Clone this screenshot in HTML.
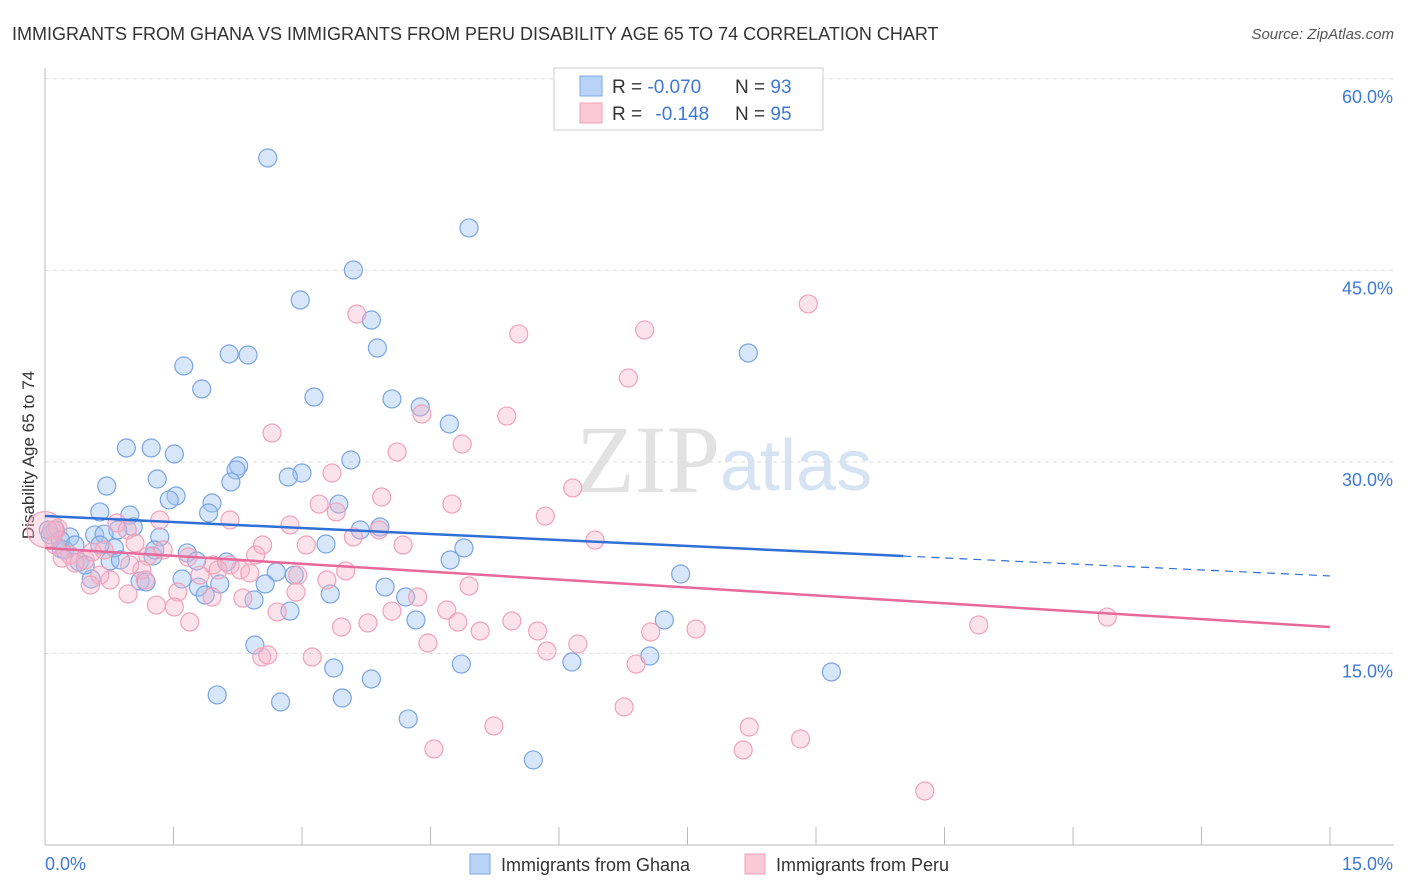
<!DOCTYPE html>
<html><head><meta charset="utf-8"><style>
body{margin:0;background:#fff;font-family:"Liberation Sans",sans-serif;}
#wrap{position:relative;width:1406px;height:892px;overflow:hidden;}
</style></head><body>
<div id="wrap">
<svg id="chart" width="1406" height="892" font-family="Liberation Sans, sans-serif">
<text x="12" y="40" font-size="18" fill="#333">IMMIGRANTS FROM GHANA VS IMMIGRANTS FROM PERU DISABILITY AGE 65 TO 74 CORRELATION CHART</text>
<text x="1394" y="39" font-size="15" fill="#555" text-anchor="end" font-style="italic">Source: ZipAtlas.com</text>
<text x="34" y="455" font-size="17" fill="#333" text-anchor="middle" transform="rotate(-90 34 455)">Disability Age 65 to 74</text>
<text x="720" y="492" font-size="96" fill="#e2e2e2" text-anchor="end" font-family="Liberation Serif, serif">ZIP</text>
<text x="720" y="490" font-size="72" fill="#d5e3f3">atlas</text>
<g id="grid"></g><g id="axes"></g><g id="pts"></g><g id="trend"></g>
<g>
<rect x="554" y="68" width="269" height="62" fill="#fff" stroke="#ccc"/>
<rect x="580" y="76" width="22" height="20" fill="#b8d3f5" stroke="#7fa9e3"/>
<rect x="580" y="103" width="22" height="20" fill="#fbc8d6" stroke="#f0a0b8"/>
<text x="612" y="93" font-size="19" fill="#333">R = <tspan fill="#3d78d8">-0.070</tspan></text>
<text x="735" y="93" font-size="19" fill="#333">N = <tspan fill="#3d78d8">93</tspan></text>
<text x="612" y="120" font-size="19" fill="#333">R = <tspan fill="#3d78d8" dx="8">-0.148</tspan></text>
<text x="735" y="120" font-size="19" fill="#333">N = <tspan fill="#3d78d8">95</tspan></text>
</g>
<g>
<rect x="470" y="854" width="20" height="20" fill="#b8d3f5" stroke="#7fa9e3"/>
<text x="501" y="871" font-size="18" fill="#333">Immigrants from Ghana</text>
<rect x="745" y="854" width="20" height="20" fill="#fbc8d6" stroke="#f0a0b8"/>
<text x="776" y="871" font-size="18" fill="#333">Immigrants from Peru</text>
</g>
</svg>
</div>
<script>
const yTicks=[15,30,45,60];
const yTickLabels=["15.0%","30.0%","45.0%","60.0%"];
const xTickVals=[0,1.5,3,4.5,6,7.5,9,10.5,12,13.5,15];
const xEndLabels=["0.0%","15.0%"];
const ghanaX=[2.60,4.95,3.60,2.98,3.81,3.88,2.15,2.37,8.21,1.62,1.83,3.14,4.05,4.38,4.72,0.95,1.24,1.51,3.57,2.26,2.23,1.31,0.72,3.00,2.84,2.17,1.53,1.45,1.95,1.91,0.64,0.99,3.43,1.03,0.85,3.91,3.68,0.12,0.29,0.58,0.69,1.34,3.28,4.89,0.81,0.19,1.66,1.77,0.40,2.12,0.76,1.26,4.73,7.42,0.54,1.60,1.11,1.18,2.70,2.91,2.57,1.79,1.87,2.04,2.44,3.97,3.33,4.21,2.86,4.33,7.23,2.45,7.06,6.15,4.86,3.37,9.18,3.81,2.01,3.47,2.75,4.24,5.70,0.06,0.04,0.23,0.47,0.18,0.35,0.88,1.28,0.64];
const ghanaY=[53.80,48.32,45.03,42.68,41.11,38.92,38.45,38.37,38.53,37.51,35.71,35.08,34.93,34.30,32.97,31.09,31.09,30.62,30.15,29.68,29.37,28.66,28.11,29.13,28.82,28.43,27.33,27.02,26.78,26.00,26.08,25.84,26.70,24.90,24.67,24.90,24.67,24.67,24.12,24.28,24.35,24.12,23.57,23.26,23.26,23.18,22.87,22.24,22.16,22.16,22.24,22.63,22.32,21.22,20.83,20.83,20.67,20.60,21.38,21.14,20.44,20.20,19.58,20.44,19.19,20.20,19.66,19.42,18.32,17.62,17.62,15.66,14.80,14.33,14.17,13.86,13.55,13.00,11.75,11.51,11.20,9.87,6.66,24.28,24.67,23.10,21.93,23.88,23.49,22.32,23.10,23.49];
const peruX=[8.91,3.64,5.53,7.00,6.81,4.40,5.39,4.87,2.65,4.11,3.35,3.93,4.75,6.16,5.84,3.20,3.40,2.86,3.60,3.90,0.84,0.96,4.18,6.42,3.05,1.05,1.20,1.38,1.67,2.46,2.16,1.96,0.29,0.47,0.55,0.69,0.08,0.12,0.20,0.35,1.13,2.95,1.81,2.02,2.28,2.39,3.51,3.29,4.95,1.55,1.95,2.31,2.93,0.97,0.76,4.05,4.35,1.30,1.51,4.69,1.69,5.45,5.75,4.82,5.08,3.46,3.77,6.22,4.47,7.07,7.60,10.90,12.40,2.71,2.53,2.60,3.12,5.86,6.90,6.76,5.24,8.22,8.15,8.82,4.54,10.27,0.15,0.99,0.64,1.34,2.16,2.54,0.53,1.17,0.0];
const peruY=[42.37,41.58,40.02,40.33,36.57,33.75,33.59,31.40,32.26,30.78,29.13,27.25,26.70,27.96,25.76,26.70,26.08,25.06,24.12,24.67,25.22,24.67,23.49,23.88,23.49,23.65,22.63,23.10,22.55,22.71,21.93,21.93,22.71,22.32,22.94,23.10,24.67,23.49,22.47,22.08,21.54,21.14,21.14,21.54,21.54,21.30,21.46,20.75,20.28,19.81,19.42,19.34,19.81,19.66,20.75,18.32,19.42,18.79,18.64,18.40,17.46,17.54,16.76,17.46,16.76,17.07,17.39,15.74,15.82,16.68,16.91,17.23,17.85,18.25,14.72,14.88,14.72,15.19,14.17,10.81,9.32,9.24,7.44,8.30,7.52,4.23,24.82,21.93,21.14,25.45,25.45,23.49,20.36,20.75,24.7];
const ghanaTrend=[25.76,21.07];
const peruTrend=[23.26,17.07];
const ghanaSolidEnd=10.02;
const NS="http://www.w3.org/2000/svg";
const X0=45,X1=1330,YB=845,YS=12.77;
const sx=v=>X0+(X1-X0)*v/15;
const sy=v=>YB-v*YS;
function mk(t,p,a){const e=document.createElementNS(NS,t);for(const k in a)e.setAttribute(k,a[k]);p.appendChild(e);return e;}
const grid=document.getElementById('grid'),axes=document.getElementById('axes'),pts=document.getElementById('pts'),trend=document.getElementById('trend');
yTicks.forEach((v,i)=>{
 const l=mk('line',grid,{x1:X0,x2:1394,y1:sy(v),y2:sy(v),stroke:'#ddd','stroke-dasharray':'4 4'});
 
 
 const t=mk('text',axes,{x:1393,y:sy(v)+24,'font-size':18,fill:'#3d78d8','text-anchor':'end'});
 t.textContent=yTickLabels[i];
 
 
});
const ax=mk('line',axes,{x1:X0,x2:1394,y1:YB,y2:YB,stroke:'#bbb'});


const ay=mk('line',axes,{x1:X0,x2:X0,y1:68,y2:YB,stroke:'#bbb'});


xTickVals.forEach(v=>{
 const t=mk('line',axes,{x1:sx(v),x2:sx(v),y1:YB,y2:YB-18,stroke:'#bbb'});
 
 
});
[[0,'start',45],[15,'end',1393]].forEach((d,i)=>{
 const t=mk('text',axes,{x:d[2],y:870,'font-size':18,fill:'#3d78d8','text-anchor':d[1]});
 t.textContent=xEndLabels[i];
 
 
});
function drawPts(xs,ys,fill,stroke,name){
 xs.forEach((x,i)=>{
  const big=(name==='peru-point'&&i===xs.length-1);
  const c=mk('circle',pts,{cx:sx(x),cy:sy(ys[i]),r:big?18:9,fill:fill,stroke:stroke,'stroke-width':1.2});
  
  
 });
}
drawPts(ghanaX,ghanaY,'rgba(160,196,240,0.42)','#7aa5e3','ghana-point');
drawPts(peruX,peruY,'rgba(248,180,200,0.38)','#f0a2ba','peru-point');
const gy=x=>ghanaTrend[0]+(ghanaTrend[1]-ghanaTrend[0])*x/15;
const py=x=>peruTrend[0]+(peruTrend[1]-peruTrend[0])*x/15;
const g1=mk('line',trend,{x1:sx(0),y1:sy(gy(0)),x2:sx(ghanaSolidEnd),y2:sy(gy(ghanaSolidEnd)),stroke:'#2f6fd6','stroke-width':2.5});


const g2=mk('line',trend,{x1:sx(ghanaSolidEnd),y1:sy(gy(ghanaSolidEnd)),x2:sx(15),y2:sy(gy(15)),stroke:'#2f6fd6','stroke-width':1.2,'stroke-dasharray':'8 6'});


const p1=mk('line',trend,{x1:sx(0),y1:sy(py(0)),x2:sx(15),y2:sy(py(15)),stroke:'#e8689a','stroke-width':2.5});


</script>
</body></html>
